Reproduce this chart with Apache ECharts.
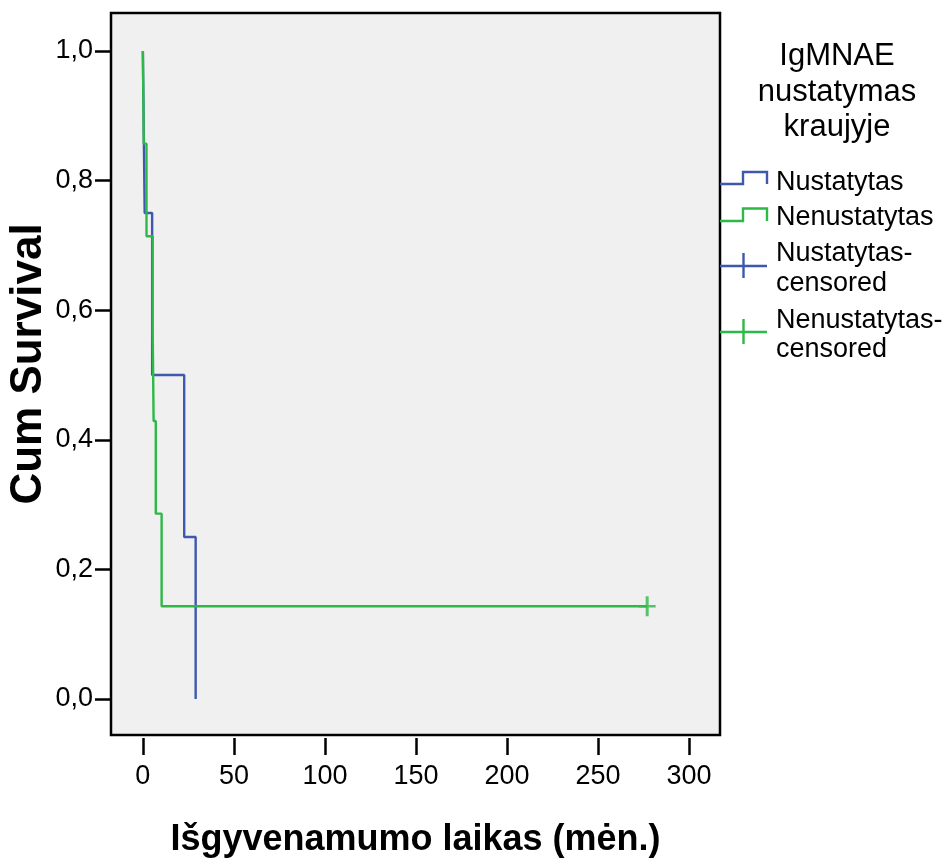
<!DOCTYPE html>
<html>
<head>
	<meta charset="UTF-8">
	<title>Cum Survival</title>
	<script src="https://cdn.jsdelivr.net/npm/echarts@6/dist/echarts.min.js"></script>
	<style>
		html, body { margin: 0; padding: 0; background: #fff; }
		#chart { width: 944px; height: 858px; }
	</style>
</head>
<body>
	<div id="chart"></div>
	<script>
		// Nustatytas
		var blueTimes = [0, 1.0, 5.1, 22.7, 29.0];
		var blueSurv = [1, 0.75, 0.5, 0.25, 0];
		var blueCensTimes = [];
		var blueCensSurv = [];
		// Nenustatytas
		var greenTimes = [0, 0.5, 2.0, 5.4, 5.9, 7.1, 10.3, 277];
		var greenSurv = [1, 0.857, 0.714, 0.571, 0.429, 0.286, 0.143, 0.143];
		var greenCensTimes = [277];
		var greenCensSurv = [0.143];

		var xTicks = [0, 50, 100, 150, 200, 250, 300];
		var yTicks = [0, 0.2, 0.4, 0.6, 0.8, 1.0];

		var blue = '#3E58AC';
		var green = '#2EB848';
		var sans = "'Liberation Sans', Arial, sans-serif";

		function pairs(xs, ys) {
			return xs.map(function(x, i) { return [x, ys[i]]; });
		}

		var plus = 'path://M7,0h3v20h-3z M0,8.8h17v2.4h-17z';

		function txt(x, y, s, size, align) {
			return { type: 'text', style: { x: x, y: y, text: s, align: align || 'left', verticalAlign: 'middle', font: size + 'px ' + sans, fill: '#000' } };
		}

		var myChart = echarts.init(document.getElementById('chart'));
		myChart.setOption({
			animation: false,
			backgroundColor: '#fff',
			grid: {
				left: 111, right: 224, top: 13, bottom: 123,
				outerBoundsMode: 'none', containLabel: false,
				show: true, backgroundColor: '#f0f0f0',
				borderColor: '#000', borderWidth: 2.5
			},
			xAxis: {
				type: 'value', min: -17.5, max: 317, offset: 3,
				name: 'Išgyvenamumo laikas (mėn.)',
				nameLocation: 'middle', nameGap: 84,
				nameTextStyle: { fontFamily: sans, fontWeight: 'bold', fontSize: 36, color: '#000' },
				axisLine: { show: false, onZero: false },
				splitLine: { show: false },
				axisTick: { show: true, length: 17, customValues: xTicks, lineStyle: { color: '#000', width: 2.5 } },
				axisLabel: { customValues: xTicks, margin: 25, fontFamily: sans, fontSize: 27, color: '#000' }
			},
			yAxis: {
				type: 'value', min: -0.0556, max: 1.0586,
				axisLine: { show: false, onZero: false },
				splitLine: { show: false },
				axisTick: { show: true, length: 16, customValues: yTicks, lineStyle: { color: '#000', width: 2.5 } },
				axisLabel: {
					customValues: yTicks, margin: 18, fontFamily: sans, fontSize: 27, color: '#000',
					formatter: function(v) { return v.toFixed(1).replace('.', ','); }
				}
			},
			series: [
				{
					name: 'Nustatytas', type: 'line', step: 'end', showSymbol: false, symbol: 'none',
					data: pairs(blueTimes, blueSurv),
					lineStyle: { color: blue, width: 2.4 }, itemStyle: { color: blue }
				},
				{
					name: 'Nenustatytas', type: 'line', step: 'end', showSymbol: false, symbol: 'none',
					data: pairs(greenTimes, greenSurv),
					lineStyle: { color: green, width: 2.4 }, itemStyle: { color: green }
				},
				{
					name: 'Nustatytas-censored', type: 'scatter', symbol: plus, symbolSize: [17, 20],
					data: pairs(blueCensTimes, blueCensSurv), itemStyle: { color: blue }
				},
				{
					name: 'Nenustatytas-censored', type: 'scatter', symbol: plus, symbolSize: [17, 20],
					data: pairs(greenCensTimes, greenCensSurv), itemStyle: { color: green }
				}
			],
			graphic: [
				// y axis title
				{
					type: 'text', x: 29, y: 364, rotation: Math.PI / 2,
					style: { text: 'Cum Survival', align: 'center', verticalAlign: 'middle', font: 'bold 44px ' + sans, fill: '#000' }
				},
				// legend title
				txt(837, 56, 'IgMNAE', 31, 'center'),
				txt(837, 92, 'nustatymas', 31, 'center'),
				txt(837, 127, 'kraujyje', 31, 'center'),
				// legend icons
				{ type: 'polyline', shape: { points: [[720, 184], [743, 184], [743, 172], [767, 172], [767, 184]] }, style: { stroke: blue, lineWidth: 2.4, fill: null } },
				{ type: 'polyline', shape: { points: [[720, 221], [743, 221], [743, 208.5], [767, 208.5], [767, 221]] }, style: { stroke: green, lineWidth: 2.4, fill: null } },
				{ type: 'line', shape: { x1: 720, y1: 266, x2: 767, y2: 266 }, style: { stroke: blue, lineWidth: 2.4 } },
				{ type: 'line', shape: { x1: 743.5, y1: 253, x2: 743.5, y2: 278 }, style: { stroke: blue, lineWidth: 2.4 } },
				{ type: 'line', shape: { x1: 720, y1: 332, x2: 767, y2: 332 }, style: { stroke: green, lineWidth: 2.4 } },
				{ type: 'line', shape: { x1: 743.5, y1: 319, x2: 743.5, y2: 344 }, style: { stroke: green, lineWidth: 2.4 } },
				// legend labels
				txt(776, 183, 'Nustatytas', 27),
				txt(776, 218, 'Nenustatytas', 27),
				txt(776, 254, 'Nustatytas-', 27),
				txt(776, 284, 'censored', 27),
				txt(776, 321, 'Nenustatytas-', 27),
				txt(776, 350, 'censored', 27)
			]
		});
	</script>
</body>
</html>
